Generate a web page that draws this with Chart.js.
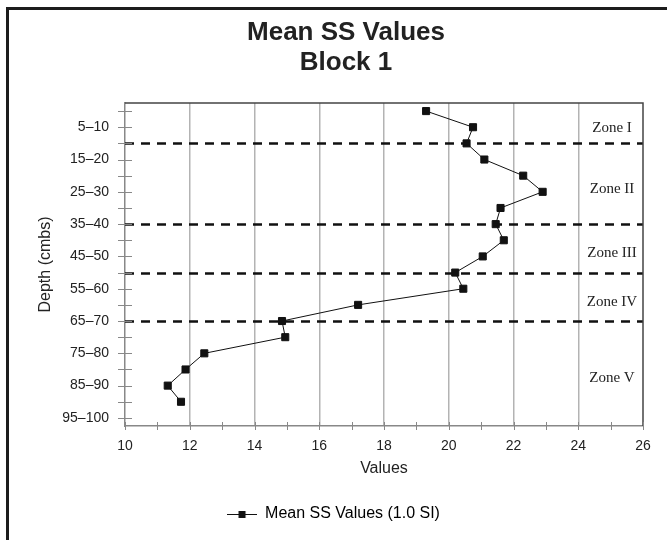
<!DOCTYPE html>
<html>
<head>
<meta charset="utf-8">
<script src="https://cdn.jsdelivr.net/npm/chart.js@4"></script>
<style>
  body { margin: 0; background: #fff; }
  #wrap { width: 667px; height: 540px; }
</style>
</head>
<body>
<div id="wrap"><canvas id="ssChart" width="667" height="540"></canvas></div>
<script>
// depth bands (cm below surface)
const depths = ["0–5", "5–10", "10–15", "15–20", "20–25", "25–30", "30–35", "35–40", "40–45", "45–50",
  "50–55", "55–60", "60–65", "65–70", "70–75", "75–80", "80–85", "85–90", "90–95", "95–100"];
// mean SS values per band
const ssValues = [19.3, 20.75, 20.55, 21.1, 22.3, 22.9, 21.6, 21.45, 21.7, 21.05,
  20.2, 20.45, 17.2, 14.85, 14.95, 12.45, 11.87, 11.32, 11.73, null];
// dashed zone boundaries + zone names
const zoneBreaks = ["10–15", "35–40", "50–55", "65–70"];
const zoneNames = ["Zone I", "Zone II", "Zone III", "Zone IV", "Zone V"];
const titleLines = ["Mean SS Values", "Block 1"];
const xMin = 10, xMax = 26;

const txt = "#222";
const sans = "'Liberation Sans', Arial, sans-serif";

// legend icon : line with square marker
function legendIcon() {
  const c = document.createElement("canvas");
  c.width = 30; c.height = 10;
  const g = c.getContext("2d");
  g.strokeStyle = "#111"; g.lineWidth = 1;
  g.beginPath(); g.moveTo(0, 5.5); g.lineTo(30, 5.5); g.stroke();
  g.fillStyle = "#111"; g.fillRect(11.5, 2, 7, 7);
  return c;
}

const decoPlugin = {
  id: "deco",
  beforeDraw(chart) {
    const ctx = chart.ctx;
    ctx.save();
    // outer frame (top + left only)
    ctx.fillStyle = "#1c1c1c";
    ctx.fillRect(6, 7, 661, 3);
    ctx.fillRect(6, 7, 3, 533);
    // title, a bit right of centre like the original
    ctx.fillStyle = txt;
    ctx.font = "bold 26px " + sans;
    ctx.textAlign = "center";
    ctx.textBaseline = "middle";
    titleLines.forEach((t, i) => ctx.fillText(t, 346, 33 + i * 30));
    ctx.restore();
  },
  afterDatasetsDraw(chart) {
    const {ctx, chartArea: a, scales: {x, y}} = chart;
    ctx.save();
    // dashed zone lines
    ctx.strokeStyle = "#111";
    ctx.lineWidth = 2.5;
    ctx.setLineDash([9, 7]);
    zoneBreaks.forEach(b => {
      const py = Math.round(y.getPixelForValue(depths.indexOf(b))) + 0.5;
      ctx.beginPath(); ctx.moveTo(a.left, py); ctx.lineTo(a.right, py); ctx.stroke();
    });
    ctx.setLineDash([]);
    // top + right frame of the plot
    ctx.strokeStyle = "#444";
    ctx.lineWidth = 1.5;
    ctx.beginPath();
    ctx.moveTo(a.left, a.top); ctx.lineTo(a.right, a.top); ctx.lineTo(a.right, a.bottom);
    ctx.stroke();
    // tick marks crossing the axes
    ctx.strokeStyle = "#888";
    ctx.lineWidth = 1;
    depths.forEach((d, i) => {
      const py = Math.round(y.getPixelForValue(i)) + 0.5;
      ctx.beginPath(); ctx.moveTo(a.left - 7, py); ctx.lineTo(a.left + 7, py); ctx.stroke();
    });
    for (let v = xMin; v <= xMax; v++) {
      const px = Math.round(x.getPixelForValue(v)) + 0.5;
      ctx.beginPath(); ctx.moveTo(px, a.bottom - 4); ctx.lineTo(px, a.bottom + 4); ctx.stroke();
    }
    // zone labels, centred between the breaks
    const idx = [-0.5].concat(zoneBreaks.map(b => depths.indexOf(b)), [depths.length - 0.5]);
    ctx.fillStyle = txt;
    ctx.font = "15px 'Liberation Serif', 'Times New Roman', serif";
    ctx.textAlign = "center";
    ctx.textBaseline = "middle";
    zoneNames.forEach((n, i) => {
      const py = y.getPixelForValue((idx[i] + idx[i + 1]) / 2) + 5;
      ctx.fillText(n, a.right - 31, py);
    });
    ctx.restore();
  }
};

new Chart(document.getElementById("ssChart"), {
  type: "line",
  data: {
    labels: depths,
    datasets: [{
      label: "Mean SS Values (1.0 SI)",
      data: ssValues,
      borderColor: "#111",
      backgroundColor: "#111",
      borderWidth: 1,
      pointStyle: "rect",
      pointRadius: 5,
      pointHoverRadius: 5,
      spanGaps: false
    }]
  },
  options: {
    indexAxis: "y",
    responsive: false,
    animation: false,
    layout: { padding: { left: 24, right: 24, top: 103, bottom: 8 } },
    plugins: {
      title: { display: false },
      legend: {
        position: "bottom",
        labels: {
          color: txt,
          font: { family: sans, size: 16 },
          usePointStyle: true,
          pointStyleWidth: 30,
          padding: 10,
          generateLabels: (chart) => [{
            text: chart.data.datasets[0].label,
            pointStyle: legendIcon(),
            fillStyle: "#111",
            strokeStyle: "#111",
            lineWidth: 0,
            datasetIndex: 0
          }]
        }
      },
      tooltip: { enabled: false }
    },
    scales: {
      x: {
        type: "linear",
        min: xMin,
        max: xMax,
        afterFit: (s) => { s.height = 70; },
        ticks: {
          stepSize: 1,
          color: txt,
          font: { family: sans, size: 14 },
          padding: 12,
          callback: (v) => (v % 2 === 0 ? v : "")
        },
        grid: {
          drawTicks: false,
          lineWidth: 1.5,
          color: (c) => (c.tick && c.tick.value % 2 === 0 && c.tick.value > xMin && c.tick.value < xMax ? "#b3b3b3" : "rgba(0,0,0,0)")
        },
        border: { color: "#888", width: 1.5 },
        title: {
          display: true,
          text: "Values",
          color: txt,
          font: { family: sans, size: 16 },
          padding: { top: 0, bottom: 18 }
        }
      },
      y: {
        type: "category",
        offset: true,
        afterFit: (s) => { s.width = 101; },
        ticks: {
          autoSkip: false,
          color: txt,
          font: { family: sans, size: 14 },
          padding: 16,
          callback: (v, i) => (i % 2 === 1 ? depths[i] : "")
        },
        grid: { display: false, drawTicks: false },
        border: { color: "#888", width: 1.5 },
        title: {
          display: true,
          text: "Depth (cmbs)",
          color: txt,
          font: { family: sans, size: 16 },
          padding: { top: 12, bottom: 0 }
        }
      }
    }
  },
  plugins: [decoPlugin]
});
</script>
</body>
</html>
